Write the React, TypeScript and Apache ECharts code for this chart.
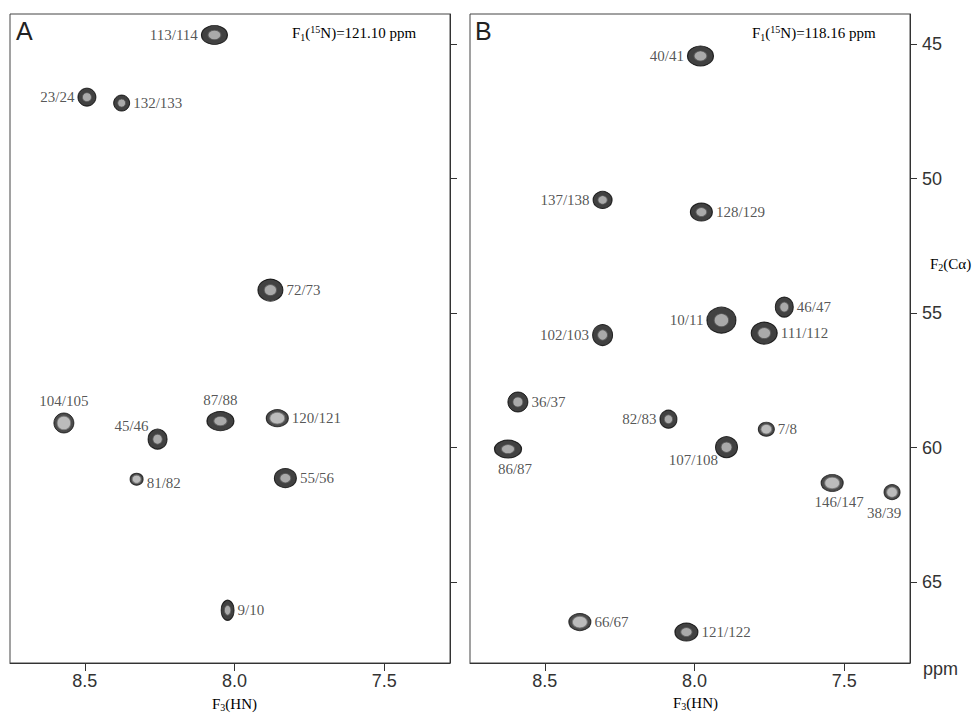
import React, { useEffect, useRef } from "react";
import * as echarts from "echarts";

// Panel A: F1(15N) = 121.10 ppm
const labelsA = ["113/114", "23/24", "132/133", "72/73", "104/105", "45/46", "87/88", "120/121", "81/82", "55/56", "9/10"];
const hnA = [8.067, 8.493, 8.377, 7.88, 8.57, 8.257, 8.047, 7.857, 8.327, 7.83, 8.023];
const caA = [44.66, 46.97, 47.19, 54.14, 59.08, 59.68, 59.01, 58.9, 61.17, 61.13, 66.04];

// Panel B: F1(15N) = 118.16 ppm
const labelsB = ["40/41", "137/138", "128/129", "46/47", "10/11", "102/103", "111/112", "36/37", "82/83", "7/8", "86/87", "107/108", "146/147", "38/39", "66/67", "121/122"];
const hnB = [7.98, 8.307, 7.977, 7.7, 7.91, 8.307, 7.767, 8.59, 8.087, 7.76, 8.623, 7.893, 7.54, 7.34, 8.383, 8.027];
const caB = [45.44, 50.79, 51.24, 54.77, 55.26, 55.81, 55.74, 58.3, 58.94, 59.31, 60.05, 59.98, 61.31, 61.65, 66.48, 66.85];

const xTicks = [7.5, 8.0, 8.5];
const yTicks = [45, 50, 55, 60, 65];

// styles (kept apart from values)
const sizesA = [[26, 19], [18, 18], [16, 16], [25, 22], [20, 20], [19, 20], [27, 19], [22, 17], [13, 12], [22, 19], [13, 20]];
const sizesB = [[26, 20], [19, 17], [22, 18], [18, 20], [29, 26], [20, 21], [26, 22], [20, 20], [17, 18], [16, 14], [27, 18], [22, 21], [22, 17], [16, 15], [22, 17], [23, 18]];
const weakA = [false, false, false, false, true, false, false, true, true, false, false];
const weakB = [false, false, false, false, false, false, false, false, false, true, false, false, true, true, true, false];
const placeA = ["l", "l", "r", "r", "t", "lt", "t", "r", "rb", "r", "r"];
const placeB = ["l", "l", "r", "r", "l", "l", "r", "r", "l", "r", "b", "lb", "b", "bb", "r", "r"];

const SERIF = "'Liberation Serif', 'DejaVu Serif', serif";
const SANS = "'Liberation Sans', Arial, sans-serif";

function labelFor(p: string) {
  const base: any = { show: true, fontFamily: SERIF, fontSize: 15, color: "#2a2a2a", distance: 3 };
  switch (p) {
    case "l": return { ...base, position: "left" };
    case "r": return { ...base, position: "right" };
    case "rb": return { ...base, position: "right", offset: [0, 4] };
    case "t": return { ...base, position: "top", distance: 4 };
    case "b": return { ...base, position: "bottom", offset: [7, 0] };
    case "bb": return { ...base, position: "bottom", offset: [-8, 2] };
    case "lt": return { ...base, position: "left", offset: [4, -13] };
    case "lb": return { ...base, position: "left", offset: [6, 13] };
  }
  return base;
}

function buildData(hn: number[], ca: number[], names: string[], sizes: number[][], place: string[], weak: boolean[], layer: number) {
  return hn.map((x, i) => {
    let itemStyle: any;
    let s = 1;
    if (layer === 0) {
      itemStyle = weak[i]
        ? { color: "#1e1e1e", borderColor: "#111", borderWidth: 1 }
        : { color: "#111", borderColor: "#000", borderWidth: 1 };
    } else {
      s = weak[i] ? 0.68 : 0.5;
      itemStyle = weak[i]
        ? { color: "#d8d8d8", borderColor: "#777", borderWidth: 1 }
        : { color: "#c4c4c4", borderColor: "#555", borderWidth: 1 };
    }
    return {
      value: [x, ca[i]],
      name: names[i],
      symbolSize: [sizes[i][0] * s, sizes[i][1] * s],
      itemStyle,
      label: layer === 0 ? { ...labelFor(place[i]), formatter: names[i] } : { show: false },
    };
  });
}

export default function App() {
  const ref = useRef<HTMLDivElement>(null);
  useEffect(() => {
    if (!ref.current) return;
    const chart = echarts.init(ref.current, null, { renderer: "svg" });
    const xAxisBase = (gridIndex: number) => ({
      type: "value",
      gridIndex,
      min: 7.28,
      max: 8.75,
      inverse: true,
      splitLine: { show: false },
      axisLine: { show: true, lineStyle: { color: "#333", width: 1 } },
      axisTick: { show: true, inside: false, length: 8, customValues: xTicks, lineStyle: { color: "#333" } },
      axisLabel: {
        show: true,
        customValues: xTicks,
        margin: 9,
        fontFamily: SANS,
        fontSize: 18,
        color: "#333",
        formatter: (v: number) => v.toFixed(1),
      },
    });
    const yAxisBase = (gridIndex: number, showLabels: boolean) => ({
      type: "value",
      gridIndex,
      position: "right",
      min: 43.88,
      max: 68.0,
      inverse: true,
      splitLine: { show: false },
      axisLine: { show: true, lineStyle: { color: "#333", width: 1 } },
      axisTick: { show: true, inside: false, length: 7, customValues: yTicks, lineStyle: { color: "#333" } },
      axisLabel: {
        show: showLabels,
        customValues: yTicks,
        margin: 12,
        fontFamily: SANS,
        fontSize: 18,
        color: "#333",
      },
    });
    const subStyle = {
      n: { fontFamily: SERIF, fontSize: 15, color: "#2a2a2a", lineHeight: 22, verticalAlign: "middle" },
      sub: { fontFamily: SERIF, fontSize: 10, color: "#2a2a2a", lineHeight: 22, verticalAlign: "bottom", padding: [0, 0, 2, 0] },
      sup: { fontFamily: SERIF, fontSize: 10, color: "#2a2a2a", lineHeight: 22, verticalAlign: "top", padding: [2, 0, 0, 0] },
    };
    const option: any = {
      animation: false,
      backgroundColor: "#fff",
      grid: [
        { left: 10, top: 14, width: 440, height: 649, show: true, borderColor: "#444", borderWidth: 1, backgroundColor: "transparent" },
        { left: 470, top: 14, width: 440, height: 649, show: true, borderColor: "#444", borderWidth: 1, backgroundColor: "transparent" },
      ],
      xAxis: [xAxisBase(0), xAxisBase(1)],
      yAxis: [yAxisBase(0, false), yAxisBase(1, true)],
      series: [
        { type: "scatter", xAxisIndex: 0, yAxisIndex: 0, symbol: "circle", data: buildData(hnA, caA, labelsA, sizesA, placeA, weakA, 0) },
        { type: "scatter", xAxisIndex: 0, yAxisIndex: 0, symbol: "circle", silent: true, data: buildData(hnA, caA, labelsA, sizesA, placeA, weakA, 1) },
        { type: "scatter", xAxisIndex: 1, yAxisIndex: 1, symbol: "circle", data: buildData(hnB, caB, labelsB, sizesB, placeB, weakB, 0) },
        { type: "scatter", xAxisIndex: 1, yAxisIndex: 1, symbol: "circle", silent: true, data: buildData(hnB, caB, labelsB, sizesB, placeB, weakB, 1) },
      ],
      graphic: [
        { type: "text", left: 16, top: 18, style: { text: "A", fontFamily: SANS, fontSize: 25, fill: "#222" } },
        { type: "text", left: 475, top: 18, style: { text: "B", fontFamily: SANS, fontSize: 25, fill: "#222" } },
        { type: "text", left: 292, top: 22, style: { text: "{n|F}{sub|1}{n|(}{sup|15}{n|N)=121.10 ppm}", rich: subStyle } },
        { type: "text", left: 752, top: 22, style: { text: "{n|F}{sub|1}{n|(}{sup|15}{n|N)=118.16 ppm}", rich: subStyle } },
        { type: "text", left: 212, top: 696, style: { text: "{n|F}{sub|3}{n|(HN)}", rich: subStyle } },
        { type: "text", left: 673, top: 695, style: { text: "{n|F}{sub|3}{n|(HN)}", rich: subStyle } },
        { type: "text", left: 923, top: 660, style: { text: "ppm", fontFamily: SANS, fontSize: 18, fill: "#333" } },
        { type: "text", left: 930, top: 256, style: { text: "{n|F}{sub|2}{n|(Cα)}", rich: subStyle } },
      ],
    };
    chart.setOption(option);
    return () => chart.dispose();
  }, []);
  return <div ref={ref} style={{ position: "fixed", left: 0, top: 0, width: 980, height: 717 }} />;
}
